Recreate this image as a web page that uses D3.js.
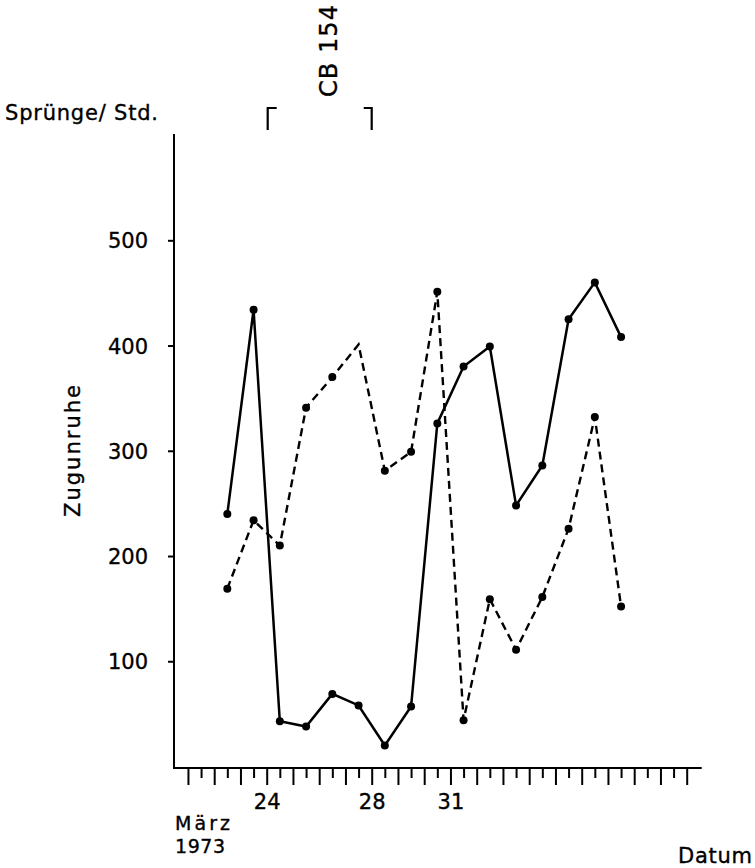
<!DOCTYPE html>
<html>
<head>
<meta charset="utf-8">
<script src="https://cdn.jsdelivr.net/npm/d3@7/dist/d3.min.js"></script>
<style>
  html, body { margin: 0; padding: 0; background: #fff; }
  svg { display: block; }
  text { font-family: "DejaVu Sans", sans-serif; fill: #000; stroke: #000; stroke-width: 0.35px; }
</style>
</head>
<body>
<svg id="chart" width="755" height="868"></svg>
<script>
// Days counted from 1 March (32 = 1 April, 33 = 2 April, ...)
const days = [22, 23, 24, 25, 26, 27, 28, 29, 30, 31, 32, 33, 34, 35, 36, 37];
const solidValues  = [240, 434, 43, 38, 69, 58, 20, 57, 326, 380, 399, 248, 286, 425, 460, 408];
const dashedValues = [169, 234, 210, 341, 370, 401, 281, 299, 451, 44, 159, 111, 161, 226, 332, 152];
const dashedHasDot = [true, true, true, true, true, false, true, true, true, true, true, true, true, true, true, true];
const yTicks = [100, 200, 300, 400, 500];
const xMajorDays = [21, 22, 23, 24, 25, 26, 27, 28, 29, 30, 31, 32, 33, 34, 35, 36, 37, 38, 39, 40];
const xLabelled = {24: "24", 28: "28", 31: "31"};
const treatment = {label: "CB 154", from: 24, to: 28};

const svg = d3.select("#chart");

const x = d3.scaleLinear().domain([24, 28]).range([266.7, 371.7]);
const y = d3.scaleLinear().domain([0, 500]).range([766.5, 240.3]);
const axisX0 = 174, axisY0 = 768;

// Axis lines
svg.append("line").attr("x1", axisX0).attr("x2", axisX0).attr("y1", 134).attr("y2", axisY0)
  .attr("stroke", "#000").attr("stroke-width", 2);
svg.append("line").attr("x1", axisX0 - 1).attr("x2", x(40) + 15).attr("y1", axisY0).attr("y2", axisY0)
  .attr("stroke", "#000").attr("stroke-width", 2);

// Y axis ticks
const yAxis = d3.axisLeft(y).tickValues(yTicks).tickSize(6).tickPadding(20);
const gy = svg.append("g").attr("transform", `translate(${axisX0},0)`).call(yAxis);
gy.select(".domain").remove();
gy.selectAll("line").attr("stroke", "#000").attr("stroke-width", 2);
gy.selectAll("text").attr("font-size", 21).attr("font-family", "DejaVu Sans").attr("dy", "0.36em");

// X axis: long ticks at days, short ticks at half days
const xMinor = xMajorDays.slice(0, -1).map(d => d + 0.5);
const xAxisMajor = d3.axisBottom(x).tickValues(xMajorDays).tickSize(17).tickPadding(9)
  .tickFormat(d => xLabelled[d] || "");
const gx = svg.append("g").attr("transform", `translate(0,${axisY0})`).call(xAxisMajor);
gx.select(".domain").remove();
gx.selectAll("line").attr("stroke", "#000").attr("stroke-width", 2);
gx.selectAll("text").attr("font-size", 21).attr("font-family", "DejaVu Sans");

const xAxisMinor = d3.axisBottom(x).tickValues(xMinor).tickSize(10).tickFormat("");
const gx2 = svg.append("g").attr("transform", `translate(0,${axisY0})`).call(xAxisMinor);
gx2.select(".domain").remove();
gx2.selectAll("line").attr("stroke", "#000").attr("stroke-width", 2);

// Series
const solidData = days.map((d, i) => ({d: d + 0.5, v: solidValues[i]}));
const dashedData = days.map((d, i) => ({d: d + 0.5, v: dashedValues[i], dot: dashedHasDot[i]}));
const line = d3.line().x(p => x(p.d)).y(p => y(p.v));

svg.append("path").datum(dashedData).attr("d", line)
  .attr("fill", "none").attr("stroke", "#000").attr("stroke-width", 2.4)
  .attr("stroke-dasharray", "8,5");
svg.append("path").datum(solidData).attr("d", line)
  .attr("fill", "none").attr("stroke", "#000").attr("stroke-width", 2.5);

svg.append("g").selectAll("circle").data(dashedData.filter(p => p.dot)).join("circle")
  .attr("cx", p => x(p.d)).attr("cy", p => y(p.v)).attr("r", 4).attr("fill", "#000");
svg.append("g").selectAll("circle").data(solidData).join("circle")
  .attr("cx", p => x(p.d)).attr("cy", p => y(p.v)).attr("r", 4).attr("fill", "#000");

// Treatment brackets
const bTop = 108, bBot = 130;
svg.append("path")
  .attr("d", `M${x(treatment.from) + 10},${bTop} H${x(treatment.from) + 1} V${bBot}`)
  .attr("fill", "none").attr("stroke", "#000").attr("stroke-width", 2.2);
svg.append("path")
  .attr("d", `M${x(treatment.to) - 8},${bTop} H${x(treatment.to)} V${bBot}`)
  .attr("fill", "none").attr("stroke", "#000").attr("stroke-width", 2.2);
svg.append("text")
  .attr("transform", "translate(337,51) rotate(-90)")
  .attr("text-anchor", "middle").attr("font-size", 24)
  .attr("textLength", 92).attr("lengthAdjust", "spacing")
  .text(treatment.label);

// Labels
svg.append("text").attr("x", 5).attr("y", 120).attr("font-size", 21)
  .attr("textLength", 153).attr("lengthAdjust", "spacing").text("Sprünge/ Std.");
svg.append("text").attr("transform", "translate(80,451) rotate(-90)")
  .attr("text-anchor", "middle").attr("font-size", 21)
  .attr("textLength", 132).attr("lengthAdjust", "spacing").text("Zugunruhe");
svg.append("text").attr("x", 175).attr("y", 830).attr("font-size", 19)
  .attr("textLength", 55).attr("lengthAdjust", "spacing").text("März");
svg.append("text").attr("x", 175).attr("y", 853).attr("font-size", 19)
  .attr("textLength", 50).attr("lengthAdjust", "spacing").text("1973");
svg.append("text").attr("x", 678).attr("y", 863).attr("font-size", 21)
  .attr("textLength", 74).attr("lengthAdjust", "spacing").text("Datum");
</script>
</body>
</html>
